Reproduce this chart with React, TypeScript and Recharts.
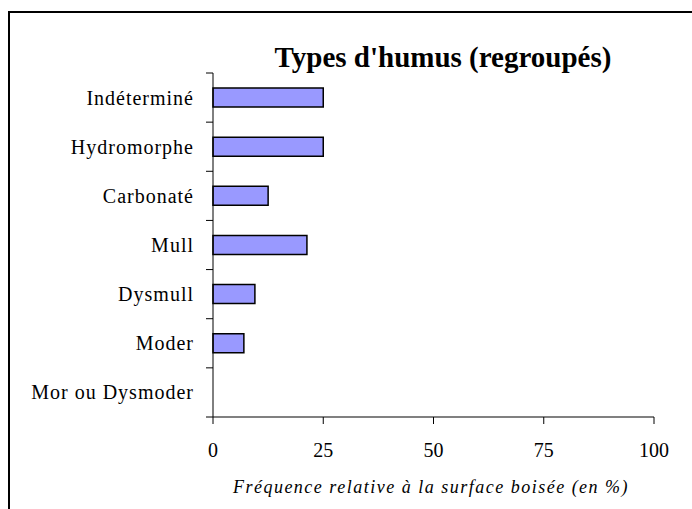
import { BarChart, Bar, XAxis, YAxis } from 'recharts';

const CATEGORIES = [
  'Indéterminé',
  'Hydromorphe',
  'Carbonaté',
  'Mull',
  'Dysmull',
  'Moder',
  'Mor ou Dysmoder',
];
const FREQUENCES = [25, 25, 12.5, 21.3, 9.5, 7, 0];
const X_TICKS = [0, 25, 50, 75, 100];

const W = 692;
const H = 509;
const MARGIN = { top: 73, right: 38, bottom: 62, left: 0 };
const X_AXIS_H = 30;
const PLOT_H = H - MARGIN.top - MARGIN.bottom - X_AXIS_H;
const HALF_BAND = PLOT_H / CATEGORIES.length / 2;

const SERIF = '"Liberation Serif", "Times New Roman", serif';

const data = CATEGORIES.map((name, i) => ({ name, value: FREQUENCES[i] }));

// category label at band centre, tick marks on the band edges (Excel style)
function CategoryTick(props: any) {
  const { x, y, payload, index, visibleTicksCount } = props;
  const last = index === visibleTicksCount - 1;
  return (
    <g>
      <text
        x={x}
        y={y}
        dy="0.35em"
        textAnchor="end"
        fontFamily={SERIF}
        fontSize={20}
        letterSpacing={1}
        fill="#000"
      >
        {payload.value}
      </text>
      <line x1={x + 12} x2={x + 19} y1={y - HALF_BAND} y2={y - HALF_BAND} stroke="#000" />
      {last && (
        <line x1={x + 12} x2={x + 19} y1={y + HALF_BAND} y2={y + HALF_BAND} stroke="#000" />
      )}
    </g>
  );
}

export default function App() {
  return (
    <div style={{ position: 'absolute', left: 0, top: 0, width: W, height: H, overflow: 'hidden', background: '#fff' }}>
      <div
        style={{
          position: 'absolute',
          left: 8,
          top: 11,
          width: 720,
          height: 540,
          border: '2px solid #000',
        }}
      />
      <div style={{ position: 'absolute', left: 0, top: 0 }}>
        <BarChart width={W} height={H} data={data} layout="vertical" margin={MARGIN}>
          <XAxis
            type="number"
            domain={[0, 100]}
            ticks={X_TICKS}
            height={X_AXIS_H}
            tickSize={7}
            tickMargin={19}
            axisLine={{ stroke: '#808080', strokeWidth: 2 }}
            tickLine={{ stroke: '#000' }}
            tick={{ fontFamily: SERIF, fontSize: 20, fill: '#000' }}
          />
          <YAxis
            type="category"
            dataKey="name"
            width={213}
            tickSize={7}
            tickMargin={12}
            tickLine={false}
            axisLine={{ stroke: '#000' }}
            tick={<CategoryTick />}
            interval={0}
          />
          <Bar
            dataKey="value"
            fill="#9999FF"
            stroke="#000"
            strokeWidth={1.5}
            barSize={19}
            isAnimationActive={false}
          />
        </BarChart>
      </div>
      <svg width={W} height={H} style={{ position: 'absolute', left: 0, top: 0, pointerEvents: 'none' }}>
        <text x={443} y={67} textAnchor="middle" fontFamily={SERIF} fontWeight="bold" fontSize={29} fill="#000">
          Types d'humus (regroupés)
        </text>
        <text
          x={431}
          y={493}
          textAnchor="middle"
          fontFamily={SERIF}
          fontStyle="italic"
          fontSize={18}
          letterSpacing={1.5}
          fill="#000"
        >
          Fréquence relative à la surface boisée (en %)
        </text>
      </svg>
    </div>
  );
}
